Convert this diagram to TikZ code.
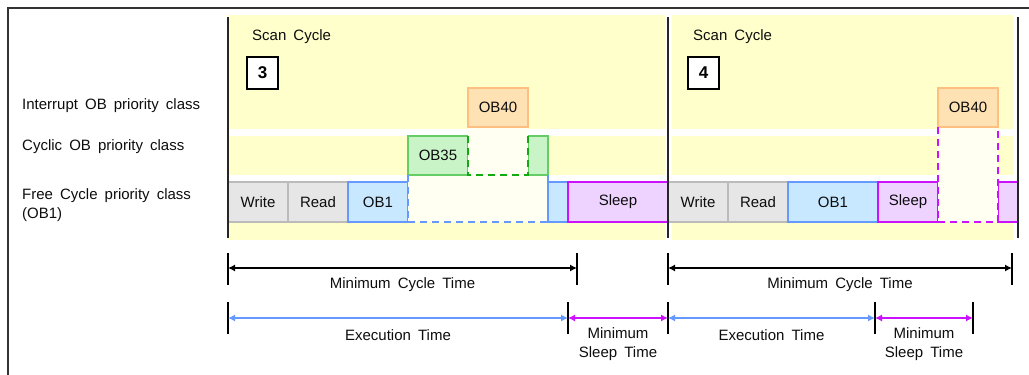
\documentclass[tikz,border=0pt]{standalone}
\usepackage{fontspec}
\setmainfont{Liberation Sans}[WordSpace=1.7]
\usetikzlibrary{arrows.meta,positioning,calc}

\definecolor{bgyellow}{HTML}{FFFFCC}
\definecolor{gapwhite}{HTML}{FFFFF2}
\definecolor{rowline}{HTML}{A8C4F0}
\definecolor{grayfill}{HTML}{E6E6E6}
\definecolor{grayline}{HTML}{BBBBBB}
\definecolor{bluefill}{HTML}{C8E8FF}
\definecolor{blueline}{HTML}{6699FF}
\definecolor{greenfill}{HTML}{C8F4C8}
\definecolor{greenline}{HTML}{66CC66}
\definecolor{greendash}{HTML}{11AA11}
\definecolor{orangefill}{HTML}{FFE2B4}
\definecolor{orangeline}{HTML}{FFBF80}
\definecolor{purplefill}{HTML}{EED2FF}
\definecolor{purpleline}{HTML}{CC11FF}

\begin{document}
\begin{tikzpicture}[x=1pt, y=-1pt,
    txt/.style={font=\fontsize{15}{19}\selectfont, text=black!95, inner sep=0pt},
    blk/.style={rectangle, draw, line width=1.5pt, minimum height=40pt, inner sep=0pt, txt},
    grayblk/.style={blk, fill=grayfill, draw=grayline, minimum width=60pt},
    blueblk/.style={blk, fill=bluefill, draw=blueline},
    greenblk/.style={blk, fill=greenfill, draw=greenline, minimum height=39pt},
    orangeblk/.style={blk, fill=orangefill, draw=orangeline, minimum height=39pt, minimum width=60pt},
    purpleblk/.style={blk, fill=purplefill, draw=purpleline},
    gapbox/.style={rectangle, fill=gapwhite, inner sep=0pt},
    gapdash/.style={line width=1.5pt, dash pattern=on 7pt off 5pt},
    numbox/.style={rectangle, draw, line width=2pt, fill=white, minimum width=31pt, minimum height=32pt,
        inner sep=0pt, font=\fontsize{17}{17}\selectfont\bfseries},
    cyclebar/.style={line width=2pt, draw=black!85},
    tick/.style={line width=1.5pt, draw=black},
    dim/.style={line width=1.2pt, {Latex[length=7pt,width=7pt]}-{Latex[length=7pt,width=7pt]}}
]
\useasboundingbox (0,0) rectangle (1029,375);

% Frame and backgrounds
\draw[line width=2pt, black!80] (8,375) -- (8,8) -- (1029,8);
\fill[bgyellow] (228,15) rectangle (665,240);
\fill[bgyellow] (672,15) rectangle (1013,240);
\foreach \y in {132,178} {
  \draw[line width=7pt, white] (229,\y) -- (1016,\y);
  \draw[rowline, line width=0.8pt, double=white, double distance=1.2pt] (17,\y) -- (1018,\y);
}

% Row labels
\node[txt, anchor=west] (intlbl) at (22,106) {Interrupt OB priority class};
\node[txt, anchor=west] (cyclbl) at (22,147) {Cyclic OB priority class};
\node[txt, anchor=west, align=left] (freelbl) at (22,205) {Free Cycle priority class\\(OB1)};

% Scan cycle 3
\node[txt, anchor=west] (scan3) at (252,37) {Scan Cycle};
\node[numbox] (num3) at (262.5,73) {3};
\node[grayblk] (write3) at (258,202) {Write};
\node[grayblk] (read3) at (318,202) {Read};
\node[blueblk, minimum width=60pt] (obone3) at (378,202) {OB1};
\node[gapbox, minimum width=140pt, minimum height=47pt] (obgap3) at (478,198.5) {};
\node[blueblk, minimum width=20pt] (oboneb3) at (558,202) {};
\node[purpleblk, minimum width=100pt] (sleep3) at (618,202) {Sleep};
\node[greenblk, minimum width=60pt] (obcyc3) at (438,155.5) {OB35};
\node[greenblk, minimum width=20pt] (obcycb3) at (538,155.5) {};
\node[gapbox, minimum width=60pt, minimum height=48pt] (cycgap3) at (498,151) {};
\node[orangeblk] (obint3) at (498,107.5) {OB40};
\draw[gapdash, blueline] (obgap3.north west) -- (obgap3.south west) -- (obgap3.south east) -- (obgap3.north east);
\draw[gapdash, greendash] ([yshift=-9pt]cycgap3.north west) -- (cycgap3.south west) -- (cycgap3.south east) -- ([yshift=-9pt]cycgap3.north east);

% Scan cycle 4
\node[txt, anchor=west] (scan4) at (693,37) {Scan Cycle};
\node[numbox] (num4) at (703.5,73) {4};
\node[grayblk] (write4) at (698,202) {Write};
\node[grayblk] (read4) at (758,202) {Read};
\node[blueblk, minimum width=90pt] (obone4) at (833,202) {OB1};
\node[purpleblk, minimum width=60pt] (sleep4) at (908,202) {Sleep};
\node[purpleblk, minimum width=20pt] (sleepb4) at (1008,202) {};
\node[gapbox, minimum width=60pt, minimum height=95pt] (intgap4) at (968,174.5) {};
\node[orangeblk] (obint4) at (968,107.5) {OB40};
\draw[gapdash, purpleline] (intgap4.north west) -- (intgap4.south west) -- (intgap4.south east) -- (intgap4.north east);

% Cycle borders
\foreach \x in {228,668,1018}
  \draw[cyclebar] (\x,17) -- (\x,238);

% Time marks
\coordinate (mct3a) at (228,268);
\coordinate (mct3b) at (577,268);
\coordinate (mct4a) at (668,268);
\coordinate (mct4b) at (1012,268);
\coordinate (ext3a) at (228,318);
\coordinate (ext3b) at (568,318);
\coordinate (slp3b) at (668,318);
\coordinate (ext4b) at (875,318);
\coordinate (slp4b) at (973,318);
\foreach \x in {228,577,668,1012}
  \draw[tick] (\x,253) -- (\x,285);
\foreach \x in {228,568,668,875,973}
  \draw[tick] (\x,302) -- (\x,334);

% Arrows
\draw[dim, black] (mct3a) -- node[txt, below=9pt] {Minimum Cycle Time} (mct3b);
\draw[dim, black] (mct4a) -- node[txt, below=9pt] {Minimum Cycle Time} (mct4b);
\draw[dim, blueline] (ext3a) -- node[txt, below=11pt] {Execution Time} (ext3b);
\draw[dim, purpleline] (ext3b) -- node[txt, below=9pt, align=center] {Minimum\\Sleep Time} (slp3b);
\draw[dim, blueline] (slp3b) -- node[txt, below=11pt] {Execution Time} (ext4b);
\draw[dim, purpleline] (ext4b) -- node[txt, below=9pt, align=center] {Minimum\\Sleep Time} (slp4b);

\end{tikzpicture}
\end{document}
